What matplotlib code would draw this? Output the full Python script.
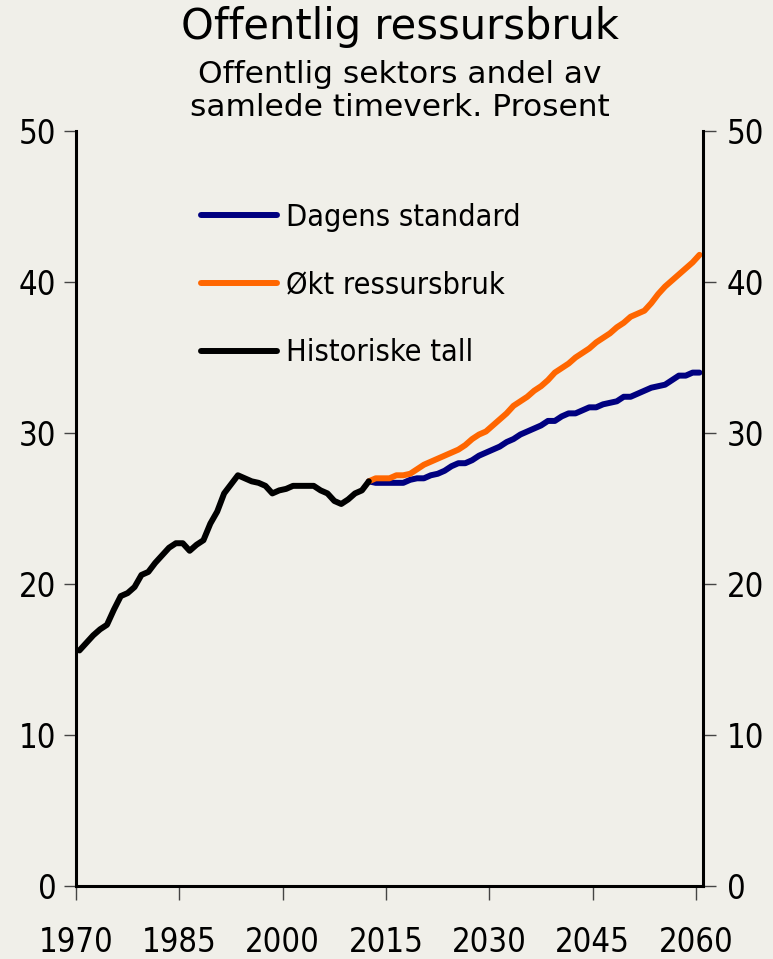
import numpy as np
import matplotlib.pyplot as plt
from matplotlib import font_manager as fm

# Historiske tall 1970-2012
hist_years = list(range(1970, 2013))
hist_vals = [15.6, 16.1, 16.6, 17.0, 17.3, 18.3, 19.2, 19.4, 19.8, 20.6,
             20.8, 21.4, 21.9, 22.4, 22.7, 22.7, 22.2, 22.6, 22.9, 24.0,
             24.8, 26.0, 26.6, 27.2, 27.0, 26.8, 26.7, 26.5, 26.0, 26.2,
             26.3, 26.5, 26.5, 26.5, 26.5, 26.2, 26.0, 25.5, 25.3, 25.6,
             26.0, 26.2, 26.8]

# Framskrivinger 2012-2060
proj_years = list(range(2012, 2061))
dagens = [26.8, 26.7, 26.7, 26.7, 26.7, 26.7, 26.9, 27.0, 27.0, 27.2,
          27.3, 27.5, 27.8, 28.0, 28.0, 28.2, 28.5, 28.7, 28.9, 29.1,
          29.4, 29.6, 29.9, 30.1, 30.3, 30.5, 30.8, 30.8, 31.1, 31.3,
          31.3, 31.5, 31.7, 31.7, 31.9, 32.0, 32.1, 32.4, 32.4, 32.6,
          32.8, 33.0, 33.1, 33.2, 33.5, 33.8, 33.8, 34.0, 34.0]
okt = [26.8, 27.0, 27.0, 27.0, 27.2, 27.2, 27.3, 27.6, 27.9, 28.1,
       28.3, 28.5, 28.7, 28.9, 29.2, 29.6, 29.9, 30.1, 30.5, 30.9,
       31.3, 31.8, 32.1, 32.4, 32.8, 33.1, 33.5, 34.0, 34.3, 34.6,
       35.0, 35.3, 35.6, 36.0, 36.3, 36.6, 37.0, 37.3, 37.7, 37.9,
       38.1, 38.6, 39.2, 39.7, 40.1, 40.5, 40.9, 41.3, 41.8]

xticks = [1970, 1985, 2000, 2015, 2030, 2045, 2060]
yticks = [0, 10, 20, 30, 40, 50]

BG = '#F0EFE9'
narrow = fm.FontProperties(family=['Liberation Sans Narrow', 'DejaVu Sans'],
                           stretch='condensed', size=23.5)
leg_font = narrow.copy()
leg_font.set_size(22)

fig = plt.figure(figsize=(7.73, 9.59), dpi=100, facecolor=BG)
ax = fig.add_axes([0.0983, 0.0761, 0.8111, 0.7873], facecolor=BG)

# punktene ligger midt i hver kategori (Excel-stil)
hx = np.array(hist_years) + 0.5
px = np.array(proj_years) + 0.5
ax.plot(px, dagens, color='#000080', lw=4.3, solid_capstyle='round', zorder=2, label='Dagens standard')
ax.plot(px, okt, color='#FF6600', lw=4.3, solid_capstyle='round', zorder=3, label='Økt ressursbruk')
ax.plot(hx, hist_vals, color='black', lw=4.3, solid_capstyle='round', zorder=4, label='Historiske tall')

ax.set_xlim(1970, 2061)
ax.set_ylim(0, 50)
ax.set_xticks(xticks)
ax.set_yticks(yticks)

for s in ['top', 'right']:
    ax.spines[s].set_visible(False)
for s in ['left', 'bottom']:
    ax.spines[s].set_linewidth(2.2)

ax.tick_params(axis='y', direction='out', length=9, width=1, color='#444444', pad=5)
ax.tick_params(axis='x', direction='out', length=10, width=1, color='#444444', pad=19)
for lab in ax.get_xticklabels() + ax.get_yticklabels():
    lab.set_fontproperties(narrow)

ax2 = ax.twinx()
ax2.set_ylim(0, 50)
ax2.set_yticks(yticks)
for s in ['top', 'left', 'bottom']:
    ax2.spines[s].set_visible(False)
ax2.spines['right'].set_linewidth(2.2)
ax2.tick_params(axis='y', direction='out', length=9, width=1, color='#444444', pad=8)
for lab in ax2.get_yticklabels():
    lab.set_fontproperties(narrow)

leg = ax.legend(loc='upper left', bbox_to_anchor=(0.199, 0.905), frameon=False,
                borderpad=0, borderaxespad=0,
                handlelength=2.5, handletextpad=0.3, labelspacing=1.27,
                prop=leg_font)

fig.text(0.5175, 0.972, 'Offentlig ressursbruk', ha='center', va='center', fontsize=30)
fig.text(0.5175, 0.905, 'Offentlig sektors andel av\nsamlede timeverk. Prosent',
         ha='center', va='center', fontsize=22.5, linespacing=1.2)

fig.savefig('out.png', dpi=100, facecolor=BG)
